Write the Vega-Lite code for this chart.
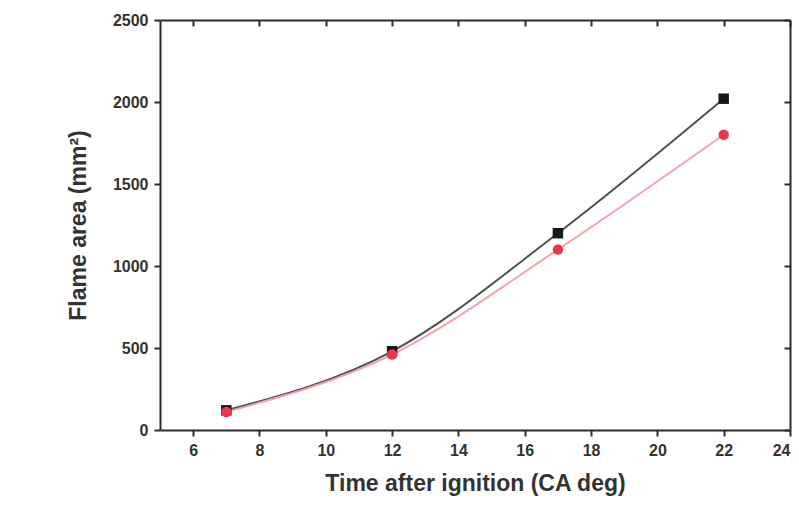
{
  "$schema": "https://vega.github.io/schema/vega-lite/v6.json",
  "width": 630,
  "height": 410,
  "autosize": "none",
  "padding": {"left": 160, "top": 20, "right": 9, "bottom": 84},
  "background": "white",
  "data": {"values": [
    {"t": 7, "area": 120, "fuel": "Gasoline"},
    {"t": 12, "area": 480, "fuel": "Gasoline"},
    {"t": 17, "area": 1200, "fuel": "Gasoline"},
    {"t": 22, "area": 2020, "fuel": "Gasoline"},
    {"t": 7, "area": 110, "fuel": "CNG"},
    {"t": 12, "area": 460, "fuel": "CNG"},
    {"t": 17, "area": 1100, "fuel": "CNG"},
    {"t": 22, "area": 1800, "fuel": "CNG"}
  ]},
  "config": {
    "view": {"stroke": null},
    "font": "Liberation Sans",
    "axis": {
      "grid": false,
      "domain": true,
      "domainColor": "#2b2b2b",
      "domainWidth": 2,
      "tickColor": "#2b2b2b",
      "tickWidth": 2,
      "tickSize": 6,
      "labelFont": "Liberation Sans",
      "labelFontWeight": "bold",
      "labelFontSize": 16,
      "labelColor": "#333333",
      "titleFont": "Liberation Sans",
      "titleFontWeight": "bold",
      "titleFontSize": 23,
      "titleColor": "#333333"
    }
  },
  "resolve": {"axis": {"x": "independent", "y": "independent"}},
  "layer": [
    {
      "mark": {"type": "line", "interpolate": "monotone", "strokeWidth": 2},
      "encoding": {
        "x": {"field": "t", "type": "quantitative", "scale": {"domain": [5, 24], "nice": false},
          "axis": {"title": "Time after ignition (CA deg)", "values": [6,8,10,12,14,16,18,20,22,24],
            "labelPadding": 6, "titlePadding": 14}},
        "y": {"field": "area", "type": "quantitative", "scale": {"domain": [0, 2500], "nice": false},
          "axis": {"title": "Flame area (mm²)", "values": [0,500,1000,1500,2000,2500],
            "format": "d", "labelPadding": 6, "titlePadding": 22}},
        "stroke": {"field": "fuel", "type": "nominal", "scale": {"domain": ["Gasoline", "CNG"], "range": ["#4b5450", "#f2a3ab"]}, "legend": null}
      }
    },
    {
      "mark": {"type": "point", "filled": true, "opacity": 1, "size": 110},
      "encoding": {
        "x": {"field": "t", "type": "quantitative", "axis": null},
        "y": {"field": "area", "type": "quantitative", "axis": null},
        "fill": {"field": "fuel", "type": "nominal", "scale": {"domain": ["Gasoline", "CNG"], "range": ["#151a17", "#f0344e"]},
          "legend": {
            "title": null, "orient": "none", "legendX": 20, "legendY": 10,
            "strokeColor": "#333333", "padding": 12, "rowPadding": 8,
            "labelFont": "Liberation Sans", "labelFontWeight": "bold", "labelFontSize": 15, "labelColor": "#333333", "labelOffset": 8
          }},
        "shape": {"field": "fuel", "type": "nominal", "scale": {"domain": ["Gasoline", "CNG"], "range": ["square", "circle"]}}
      }
    },
    {
      "mark": {"type": "point", "opacity": 0},
      "encoding": {
        "x": {"field": "t", "type": "quantitative",
          "axis": {"orient": "top", "title": null, "labels": false, "values": [6,8,10,12,14,16,18,20,22,24], "tickSize": -6}},
        "y": {"field": "area", "type": "quantitative",
          "axis": {"orient": "right", "title": null, "labels": false, "values": [0,500,1000,1500,2000,2500], "tickSize": -6}}
      }
    }
  ]
}
